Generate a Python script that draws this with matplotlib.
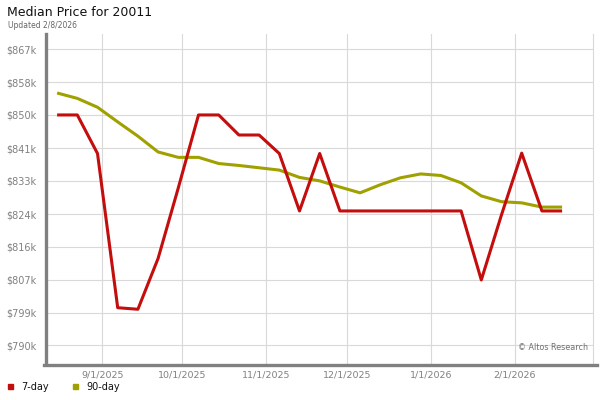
import matplotlib
matplotlib.use("Agg")
import matplotlib.pyplot as plt
from matplotlib.lines import Line2D
from matplotlib.patches import Rectangle

# weekly points, values in $k
week = list(range(26))
day7 = [849.9, 849.9, 839.9, 799.9, 799.5, 812.7, 831.0, 849.9, 849.9, 844.7,
        844.7, 839.9, 825.0, 839.9, 825.0, 825.0, 825.0, 825.0, 825.0, 825.0,
        825.0, 807.1, 824.0, 840.0, 825.0, 825.0]
day90 = [855.6, 854.2, 851.9, 848.1, 844.4, 840.3, 838.9, 838.9, 837.3, 836.8,
         836.2, 835.6, 833.7, 832.8, 831.2, 829.7, 831.8, 833.6, 834.6, 834.2,
         832.3, 828.9, 827.4, 827.1, 826.0, 826.0]

date_pos = [2.23, 6.19, 10.35, 14.36, 18.5, 22.65]
date_labels = ["9/1/2025", "10/1/2025", "11/1/2025", "12/1/2025", "1/1/2026", "2/1/2026"]

price_ticks = [790.1, 798.6, 807.1, 815.7, 824.2, 832.8, 841.3, 849.9, 858.4, 867.0]
price_labels = ["$790k", "$799k", "$807k", "$816k", "$824k", "$833k",
                "$841k", "$850k", "$858k", "$867k"]

red = "#c40d0d"
olive = "#a0a000"
grid = "#d9d9d9"
axis_gray = "#808080"

fig = plt.figure(figsize=(6, 4), dpi=100)
ax = fig.add_axes([46 / 600, 36 / 400, 547 / 600, 330 / 400])

ax.plot(week, day90, color=olive, lw=2.2, solid_capstyle="butt", zorder=3)
ax.plot(week, day7, color=red, lw=2.2, solid_capstyle="butt", zorder=4)

ax.set_xlim(-0.55, 26.53)
ax.set_ylim(785.3, 870.9)

ax.set_yticks(price_ticks)
ax.set_yticklabels(price_labels)
ax.set_xticks(date_pos)
ax.set_xticklabels(date_labels)
ax.tick_params(length=0, colors=axis_gray, labelsize=7)
ax.tick_params(axis="x", pad=5, labelsize=6.8)
ax.tick_params(axis="y", pad=7)
ax.grid(True, color=grid, lw=0.8)
ax.set_axisbelow(True)

ax.spines["top"].set_visible(False)
ax.spines["right"].set_color(grid)
ax.spines["right"].set_linewidth(0.8)
ax.spines["left"].set_color(axis_gray)
ax.spines["left"].set_linewidth(2.4)
ax.spines["bottom"].set_visible(False)

# thick bottom axis running past the plot area
fig.add_artist(Line2D([44 / 600, 597 / 600], [35 / 400, 35 / 400],
                      color=axis_gray, lw=2.4, transform=fig.transFigure))

ax.text(0.99, 0.035, "\u00a9 Altos Research", transform=ax.transAxes,
        ha="right", va="bottom", fontsize=5.8, color="#707070")

fig.text(7 / 600, 1 - 13 / 400, "Median Price for 20011", fontsize=9.0,
         va="center", ha="left", color="#111111")
fig.text(8 / 600, 1 - 25 / 400, "Updated 2/8/2026", fontsize=5.5,
         va="center", ha="left", color="#666666")

# legend
for x0, col, lab in [(8, red, "7-day"), (73, olive, "90-day")]:
    fig.add_artist(Rectangle((x0 / 600, 1 - 389 / 400), 5 / 600, 5 / 400,
                             color=col, transform=fig.transFigure))
    fig.text((x0 + 13) / 600, 1 - 387 / 400, lab, fontsize=7,
             va="center", ha="left", color="#111111")

fig.savefig("out.png", dpi=100)
